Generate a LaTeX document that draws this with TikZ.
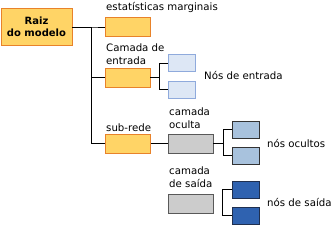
\documentclass[tikz,border=0pt]{standalone}
\usepackage{fontspec}
\setmainfont{DejaVu Sans}
\usetikzlibrary{positioning}
\definecolor{boxyellow}{HTML}{FFD466}
\definecolor{boxorange}{HTML}{E8822A}
\definecolor{inputfill}{HTML}{DDE7F5}
\definecolor{inputdraw}{HTML}{8FAADC}
\definecolor{hiddenfill}{HTML}{A8C2DD}
\definecolor{outputfill}{HTML}{2F62B0}
\definecolor{outputdraw}{HTML}{1F2F4F}
\begin{document}
\begin{tikzpicture}[x=1pt,y=-1pt,
 font=\fontsize{10.2}{12.5}\selectfont,
 box/.style={inner sep=0pt,minimum width=45pt,minimum height=19pt,line width=.9pt},
 ybox/.style={box,draw=boxorange,fill=boxyellow},
 gbox/.style={box,draw=black!65,fill=black!20},
 small/.style={box,minimum width=27pt,minimum height=17pt},
 inbox/.style={small,draw=inputdraw,fill=inputfill},
 hidbox/.style={small,draw=black!80,fill=hiddenfill},
 outbox/.style={small,draw=outputdraw,fill=outputfill},
 wire/.style={line width=1pt},
 lbl/.style={anchor=base west,inner sep=0pt,align=left},
 side/.style={anchor=west,inner sep=0pt}]
\useasboundingbox (0,0) rectangle (331,226);
% tree of boxes
\node[ybox,minimum width=71pt,minimum height=37pt,font=\bfseries\fontsize{10}{11.5}\selectfont,align=center] (root) at (36.5,27) {Raiz\\do modelo};
\node[ybox] (stats) at (127.5,27) {};
\node[ybox] (input) at (127.5,77.5) {};
\node[ybox] (subnet) at (128,143.5) {};
\node[gbox] (hidden) at (190.5,143.5) {};
\node[gbox] (output) at (190.5,203.5) {};
\foreach \n/\y in {1/63,2/89.5}{\node[inbox] (in\n) at (181.5,\y) {};}
\foreach \n/\y in {1/129.5,2/155.5}{\node[hidbox] (hid\n) at (245.5,\y) {};}
\foreach \n/\y in {1/189.5,2/215.5}{\node[outbox] (out\n) at (245.5,\y) {};}
% connectors
\foreach \t in {stats,input,subnet}{\draw[wire] (root.east) -- ++(19,0) |- (\t.west);}
\draw[wire] (subnet) -- (hidden);
\foreach \n in {1,2}{
  \draw[wire] (input.east) -- ++(9,0) |- (in\n.west);
  \draw[wire] (hidden.east) -- ++(10,0) |- (hid\n.west);
}
\draw[wire] (out1.west) -- ++(-9,0) |- (out2.west);
% labels
\node[lbl] (statslbl) at (106,10) {estatísticas marginais};
\node[lbl] (inputlbl) at (106,64) {Camada de\\entrada};
\node[lbl] (subnetlbl) at (106,131) {sub-rede};
\node[lbl] (hiddenlbl) at (169,128) {camada\\oculta};
\node[lbl] (outputlbl) at (169,187) {camada\\de saída};
\node[side] (inlbl) at (204,75) {Nós de entrada};
\node[side] (hidlbl) at (267,143) {nós ocultos};
\node[side] (outlbl) at (267,202) {nós de saída};
\end{tikzpicture}
\end{document}
